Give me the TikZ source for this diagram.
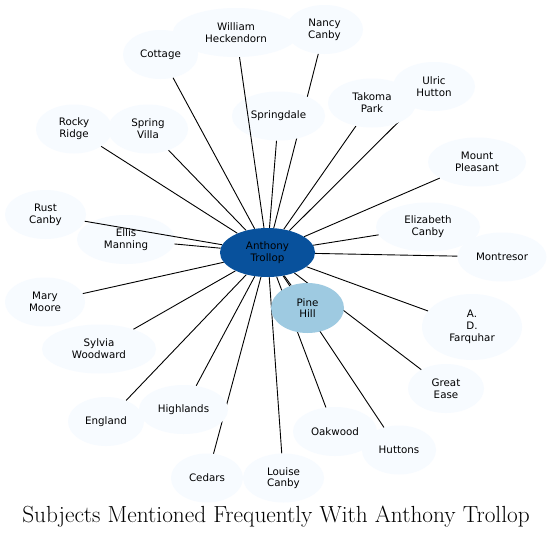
\documentclass[tikz,border=0pt]{standalone}
\usepackage{fontspec}
\newfontfamily\subjfont{DejaVu Sans}
\usetikzlibrary{shapes.geometric}
\definecolor{leaf}{HTML}{F7FBFF}
\definecolor{hub}{HTML}{08519C}
\definecolor{near}{HTML}{9ECAE1}
\pgfdeclarelayer{front}
\pgfsetlayers{main,front}

\begin{document}
\begin{tikzpicture}[x=1pt, y=-1pt,
    subj/.style={ellipse, fill=leaf, inner sep=0pt, minimum width=#1, minimum height=49pt, align=center, font=\subjfont\fontsize{10.3}{11.7}\selectfont},
    link/.style={line width=0.9pt}
]
\path[use as bounding box, fill=white] (0,0) rectangle (552,539);

% outer ring
\node[subj=126pt] (wh) at (236,32.5) {William\\Heckendorn};
\node[subj=77pt] (nc) at (324.5,29.5) {Nancy\\Canby};
\node[subj=75pt] (co) at (160.5,54.5) {Cottage};
\node[subj=76pt] (rr) at (74,129) {Rocky\\Ridge};
\node[subj=80pt] (sv) at (148,129) {Spring\\Villa};
\node[subj=82pt] (uh) at (434,86.5) {Ulric\\Hutton};
\node[subj=98pt] (mp) at (477,162) {Mount\\Pleasant};
\node[subj=81pt] (rc) at (45.5,214.5) {Rust\\Canby};
\node[subj=98pt] (em) at (126,239.5) {Ellis\\Manning};
\node[subj=104pt] (ec) at (428,227) {Elizabeth\\Canby};
\node[subj=89pt] (mo) at (502,257) {Montresor};
\node[subj=80pt] (mm) at (45,302) {Mary\\Moore};
\node[subj=100pt, minimum height=66pt] (af) at (472,327) {A.\\D.\\Farquhar};
\node[subj=114pt] (sw) at (99,349) {Sylvia\\Woodward};
\node[subj=76pt] (ge) at (446,388.5) {Great\\Ease};
\node[subj=76pt] (en) at (106,421.5) {England};
\node[subj=84pt] (ow) at (335,431.5) {Oakwood};
\node[subj=74pt] (hu) at (399,450) {Huttons};
\node[subj=72pt] (ce) at (207,478) {Cedars};
\node[subj=81pt] (lc) at (283.5,478) {Louise\\Canby};

% these cover the links that run under them
\begin{pgfonlayer}{front}
\node[subj=95pt, fill=hub] (at) at (267.5,252.5) {Anthony\\Trollop};
\node[subj=73pt, minimum height=50pt, fill=near] (ph) at (307.5,308) {Pine\\Hill};
\node[subj=93pt] (sd) at (278.5,116) {Springdale};
\node[subj=88pt] (tp) at (372,103) {Takoma\\Park};
\node[subj=89pt] (hl) at (183.5,409.5) {Highlands};
\draw[link] (at) -- (wh);
\end{pgfonlayer}

\foreach \n in {nc,co,rr,sv,sd,tp,uh,mp,rc,em,ec,mo,mm,af,sw,ge,en,hl,ow,hu,ce,lc,ph}
    \draw[link] (at) -- (\n);

\node[font=\fontsize{23.3}{28}\selectfont] (title) at (276,517) {Subjects Mentioned Frequently With Anthony Trollop};
\end{tikzpicture}
\end{document}
